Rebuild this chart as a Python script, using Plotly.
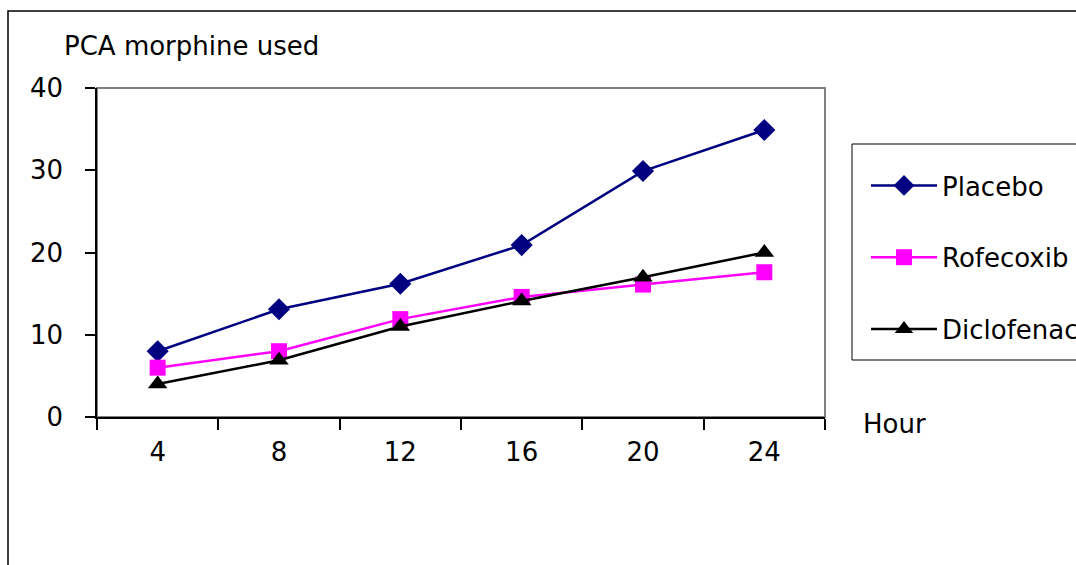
import plotly.graph_objects as go

hours = ["4", "8", "12", "16", "20", "24"]
placebo = [8.0, 13.1, 16.2, 20.9, 29.9, 34.9]
rofecoxib = [6.0, 8.0, 11.9, 14.6, 16.1, 17.6]
diclofenac = [4.0, 6.9, 11.0, 14.1, 17.0, 20.0]
y_ticks = [0, 10, 20, 30, 40]

FONT = "DejaVu Sans"
L, R, T, B = 97, 825, 88, 417
W, H = 1076, 565

def px(x):
    return (x - L) / (R - L)

def py(y):
    return (B - y) / (B - T)

fig = go.Figure()
series = [
    ("Placebo", placebo, "#000080", "diamond", 17),
    ("Rofecoxib", rofecoxib, "#FF00FF", "square", 16),
    ("Diclofenac", diclofenac, "#000000", "triangle-up", 17),
]
for i, (name, vals, col, sym, sz) in enumerate(series):
    fig.add_trace(go.Scatter(
        x=hours, y=vals, name=name, mode="lines+markers",
        line=dict(color=col, width=2.5),
        marker=dict(symbol=sym, size=sz, color=col),
        legendgroup=f"g{i}",
    ))

fig.update_layout(
    width=W, height=H,
    margin=dict(l=L, r=W - R, t=T, b=H - B, autoexpand=False),
    paper_bgcolor="white", plot_bgcolor="white",
    font=dict(family=FONT, size=25, color="#000000"),
    showlegend=True,
    legend=dict(
        x=px(866), y=py(162), xanchor="left", yanchor="top",
        font=dict(family=FONT, size=26, color="#000000"),
        bgcolor="rgba(0,0,0,0)", borderwidth=0,
        tracegroupgap=35, itemwidth=66,
    ),
    xaxis=dict(
        type="category", range=[-0.5, 5.5],
        showgrid=False, zeroline=False,
        showline=True, linecolor="#000000", linewidth=1.5,
        ticks="outside", ticklen=11, tickcolor="#000000", tickwidth=1.5,
        tickson="boundaries", ticklabelstandoff=11,
        tickfont=dict(family=FONT, size=26, color="#000000"),
    ),
    yaxis=dict(
        range=[0, 40], tickvals=y_ticks,
        showgrid=False, zeroline=False,
        showline=True, linecolor="#000000", linewidth=1.5,
        ticks="outside", ticklen=10, tickcolor="#000000", tickwidth=1.5,
        ticklabelstandoff=17,
        tickfont=dict(family=FONT, size=26, color="#000000"),
    ),
    shapes=[
        dict(type="rect", xref="paper", yref="paper",
             x0=px(8), x1=px(1200), y0=py(700), y1=py(11),
             line=dict(color="#000000", width=1.5), layer="below"),
        dict(type="rect", xref="paper", yref="paper",
             x0=0, x1=1, y0=0, y1=1,
             line=dict(color="#808080", width=2), layer="below"),
        dict(type="rect", xref="paper", yref="paper",
             x0=px(852), x1=px(1200), y0=py(360), y1=py(144),
             line=dict(color="#000000", width=1), layer="below"),
    ],
    annotations=[
        dict(text="PCA morphine used", xref="paper", yref="paper",
             x=px(62), y=py(46), xanchor="left", yanchor="middle",
             showarrow=False, font=dict(family=FONT, size=26, color="#000000")),
        dict(text="Hour", xref="paper", yref="paper",
             x=px(861), y=py(424), xanchor="left", yanchor="middle",
             showarrow=False, font=dict(family=FONT, size=26, color="#000000")),
    ],
)

fig.write_html("out.html")
